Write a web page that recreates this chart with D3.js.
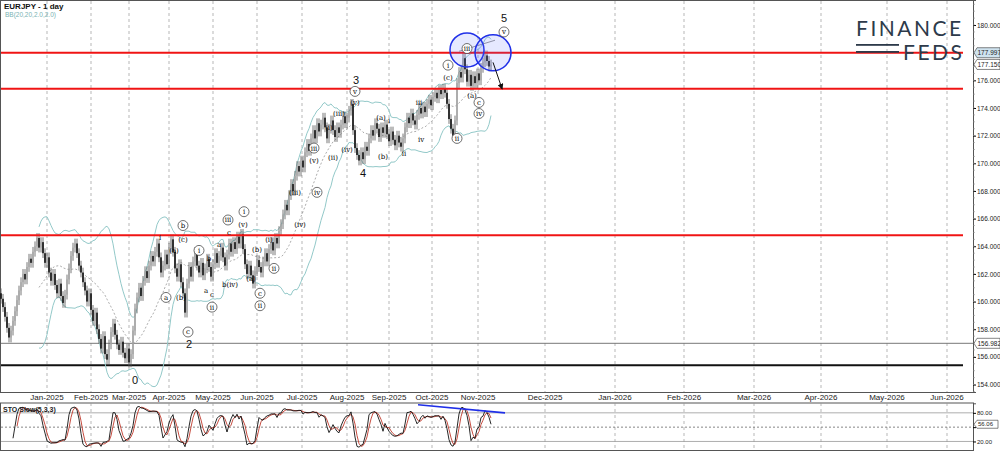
<!DOCTYPE html>
<html>
<head>
<meta charset="utf-8" />
<title>EURJPY - 1 day</title>
<script src="https://cdn.jsdelivr.net/npm/d3@7"></script>
<style>
  html, body { margin: 0; padding: 0; background: #fff; }
  svg { display: block; font-family: "Liberation Sans", Arial, sans-serif; }
</style>
</head>
<body>
<div id="chart"></div>
<script>
// daily closes, EURJPY, early Dec 2024 .. late Oct 2025
const closes = [
  160.2,159.6,158.9,158.1,157.4,157.9,158.6,159.3,160.1,160.8,
  161.4,162.0,161.6,162.5,163.1,162.8,163.6,164.0,164.6,163.9,
  164.3,163.5,162.8,163.2,162.1,161.5,162.0,161.2,160.6,161.3,
  160.4,159.9,160.5,161.6,162.4,163.3,163.9,164.2,163.5,162.6,
  162.1,161.4,160.8,160.0,160.6,159.4,158.6,159.2,158.0,157.3,
  156.6,157.5,156.2,155.8,156.9,157.8,158.4,157.6,156.9,156.5,
  157.1,156.3,155.9,156.6,155.6,156.2,157.9,159.5,160.3,161.0,
  160.4,161.5,162.2,161.7,162.6,163.3,162.9,163.6,164.2,163.2,
  162.1,162.6,163.4,162.7,163.9,164.5,163.6,162.4,161.8,162.7,
  161.4,160.6,159.2,161.3,162.5,161.8,162.9,163.6,162.6,162.1,
  162.8,161.9,162.4,163.1,162.5,161.8,162.7,163.5,162.8,163.3,
  163.9,163.2,162.6,163.4,164.2,163.6,164.3,163.8,164.7,164.2,
  164.9,163.8,162.7,162.0,162.6,161.9,161.3,162.2,163.0,162.5,
  162.1,162.9,163.5,162.9,163.8,164.3,163.7,164.6,164.2,165.1,
  165.6,166.3,167.0,166.6,167.7,168.5,168.0,169.1,169.8,169.4,
  170.2,169.7,170.8,171.4,170.9,171.8,172.4,171.8,172.9,172.3,
  172.8,173.3,172.6,171.8,172.5,173.1,172.4,171.9,172.6,172.2,
  172.8,173.4,172.9,173.3,173.8,174.3,172.4,171.1,170.6,170.2,
  170.8,170.3,171.2,170.9,171.8,172.4,172.0,172.9,172.5,171.9,
  172.6,172.2,172.8,172.1,171.6,172.3,171.7,171.3,172.0,171.5,
  171.2,171.8,172.6,173.3,172.9,173.6,173.1,172.8,173.5,174.0,
  173.6,174.1,173.7,174.3,174.6,174.2,174.8,175.1,174.7,175.3,
  175.0,175.4,175.1,174.3,173.2,172.5,172.0,173.1,175.8,176.6,
  176.2,177.6,176.8,175.9,176.4,175.6,176.3,175.8,176.5,176.0,
  176.9,177.3,177.8,177.4,177.0,177.15
];
const firstOpen = 160.6;

const priceTicks = [154,156,158,160,162,164,166,168,170,172,174,176,180];
const monthLabels = ["Jan-2025","Feb-2025","Mar-2025","Apr-2025","May-2025","Jun-2025","Jul-2025","Aug-2025","Sep-2025","Oct-2025","Nov-2025","Dec-2025","Jan-2026","Feb-2026","Mar-2026","Apr-2026","May-2026","Jun-2026"];
const monthBars = [23,45,64,84,106,128,150.5,173,194,215.5,238.5,272,307,341.5,376.5,410,443,473];

const redLevels = [177.997, 175.4, 164.8];
const grayLevel = 156.982;
const blackLevel = 155.4;
const lastPrice = 177.150;
const stoLevels = [20, 50, 80];
const stoTickLabels = [20, 80];

// wave labels: [text, bar index, price, kind]  kind: big | circ | plain
const waves = [
  ["0",67,154.3,"big"],["2",94,156.9,"big"],["3",177.5,176.0,"big"],["4",181,169.3,"big"],["5",251.5,180.5,"big"],
  ["i",79.5,164.6,"plain"],["a",82.5,160.3,"circ"],["b",91,165.5,"circ"],["(c)",91,164.5,"plain"],
  ["(a)",86.5,163.7,"plain"],["(b)",90,160.3,"plain"],["c",93.5,157.8,"circ"],
  ["i",99,163.7,"circ"],["a",102.5,160.8,"plain"],["c",105.5,160.5,"plain"],["ii",105.5,159.6,"circ"],
  ["b",104,163.1,"plain"],["a",109,164.1,"plain"],["iii",113.5,165.9,"circ"],["c",114,165.0,"plain"],
  ["b(iv)",114.5,161.2,"plain"],["i",121.5,166.5,"circ"],["(v)",121,165.6,"plain"],
  ["(b)",128,163.8,"plain"],["(a)",125,161.7,"plain"],["c",129.5,160.6,"circ"],["ii",129.5,159.7,"circ"],
  ["(i)",134,164.5,"plain"],["ii",136.5,162.4,"circ"],
  ["(iv)",149.5,165.6,"plain"],["(iii)",147,167.9,"plain"],["iv",158,167.9,"circ"],["(v)",156.5,170.2,"plain"],
  ["iii",156.5,171.1,"circ"],["(ii)",166,170.4,"plain"],["(i)",164,172.6,"plain"],["(iii)",169,173.6,"plain"],
  ["(iv)",173,171.0,"plain"],["(v)",177,174.4,"plain"],["v",177,175.2,"circ"],
  ["(a)",190,173.3,"plain"],["i",194,173.1,"plain"],["(b)",191,170.5,"plain"],["ii",201.5,170.7,"plain"],
  ["iii",209,174.4,"plain"],["iv",210,171.7,"plain"],["ii",228,171.8,"circ"],["i",223.5,177.1,"circ"],
  ["(c)",223.5,176.2,"plain"],["(a)",235.5,174.9,"plain"],["c",239,174.4,"circ"],["iv",239,173.6,"circ"],
  ["iii",233,178.3,"circ"],["v",251.5,179.5,"circ"]
];

const W = 1000, H = 451;
const plotR = 973, mainB = 392, stoTop = 403, stoB = 451;

const svg = d3.select("#chart").append("svg").attr("width", W).attr("height", H);

const x = d3.scaleLinear().domain([0, 486]).range([1, plotR]);
const y = d3.scaleLinear().domain([153.46, 181.81]).range([mainB, 0]);
const ys = d3.scaleLinear().domain([0, 100]).range([stoB, stoTop + 0.3]);

// ohlc from closes
const bars = closes.map(function(c, i) {
  const o = i === 0 ? firstOpen : closes[i - 1];
  return { i: i, o: o, c: c, h: Math.max(o, c) + 0.35, l: Math.min(o, c) - 0.35 };
});

// bollinger 20,2
const bb = [];
bars.forEach(function(b, i) {
  if (i < 19) return;
  const w = closes.slice(i - 19, i + 1);
  const m = d3.mean(w), s = d3.deviation(w) * Math.sqrt(19 / 20);
  bb.push({ i: i, m: m, u: m + 2 * s, d: m - 2 * s });
});

// stochastic 5,3,3
const rawK = bars.map(function(b, i) {
  const w = bars.slice(Math.max(0, i - 4), i + 1);
  return { hh: d3.max(w, d => d.h), ll: d3.min(w, d => d.l), c: b.c };
});
const kLine = [], dLine = [];
rawK.forEach(function(r, i) {
  if (i < 6) return;
  const w = rawK.slice(i - 2, i + 1);
  const num = d3.sum(w, d => d.c - d.ll), den = d3.sum(w, d => d.hh - d.ll);
  kLine.push({ i: i, v: den ? 100 * num / den : 50 });
});
kLine.forEach(function(k, j) {
  if (j < 2) return;
  dLine.push({ i: k.i, v: d3.mean(kLine.slice(j - 2, j + 1), d => d.v) });
});

// frames
svg.append("rect").attr("x", 0.5).attr("y", 0.5).attr("width", plotR).attr("height", mainB)
  .attr("fill", "none").attr("stroke", "#555");
svg.append("rect").attr("x", 0.5).attr("y", stoTop).attr("width", plotR).attr("height", stoB - stoTop - 0.5)
  .attr("fill", "none").attr("stroke", "#555");

// vertical month gridlines
svg.append("g").selectAll("line").data(monthBars).enter().append("line")
  .attr("x1", d => x(d)).attr("x2", d => x(d)).attr("y1", 1).attr("y2", mainB)
  .attr("stroke", "#999").attr("stroke-dasharray", "3,3").attr("stroke-width", 0.7);
svg.append("g").selectAll("line").data(monthBars).enter().append("line")
  .attr("x1", d => x(d)).attr("x2", d => x(d)).attr("y1", stoTop).attr("y2", stoB)
  .attr("stroke", "#999").attr("stroke-dasharray", "3,3").attr("stroke-width", 0.7);
svg.append("g").selectAll("text").data(monthLabels).enter().append("text")
  .attr("x", (d, i) => x(monthBars[i])).attr("y", 400).attr("text-anchor", "middle")
  .attr("font-size", 8).attr("fill", "#222").text(d => d);

// right price axis
const axis = svg.append("g").attr("transform", `translate(${plotR},0)`)
  .call(d3.axisRight(y).tickValues(priceTicks).tickFormat(d3.format(".3f")).tickSize(3));
axis.select(".domain").attr("stroke", "#555");
axis.selectAll("text").attr("font-size", 6.5).attr("fill", "#222").attr("dx", -2)
  .attr("font-family", "Liberation Sans, Arial");
const minor = d3.range(153.5, 181.8, 0.5);
axis.selectAll(".minor").data(minor).enter().append("line")
  .attr("y1", d => y(d)).attr("y2", d => y(d)).attr("x1", 0).attr("x2", 1.5).attr("stroke", "#777");

// horizontal levels
svg.append("line").attr("x1", 1).attr("x2", plotR).attr("y1", y(grayLevel)).attr("y2", y(grayLevel))
  .attr("stroke", "#777").attr("stroke-width", 1);
svg.append("line").attr("x1", 1).attr("x2", plotR - 10).attr("y1", y(blackLevel)).attr("y2", y(blackLevel))
  .attr("stroke", "#111").attr("stroke-width", 2);

// bollinger
const bbLine = k => d3.line().x(d => x(d.i)).y(d => y(d[k]));
svg.append("path").datum(bb).attr("d", bbLine("u")).attr("fill", "none").attr("stroke", "#93c9c9").attr("stroke-width", 1);
svg.append("path").datum(bb).attr("d", bbLine("d")).attr("fill", "none").attr("stroke", "#93c9c9").attr("stroke-width", 1);
svg.append("path").datum(bb).attr("d", bbLine("m")).attr("fill", "none").attr("stroke", "#888")
  .attr("stroke-dasharray", "2,2").attr("stroke-width", 0.7);

// candles
const cg = svg.append("g");
cg.selectAll("line").data(bars).enter().append("line")
  .attr("x1", d => x(d.i)).attr("x2", d => x(d.i)).attr("y1", d => y(d.h)).attr("y2", d => y(d.l))
  .attr("stroke", "#555").attr("stroke-width", 0.8);
cg.selectAll("rect").data(bars).enter().append("rect")
  .attr("x", d => x(d.i) - 0.8).attr("width", 1.6)
  .attr("y", d => y(Math.max(d.o, d.c))).attr("height", d => Math.max(0.8, Math.abs(y(d.o) - y(d.c))))
  .attr("fill", d => d.c >= d.o ? "#aaa" : "#111");

// red levels
svg.append("g").selectAll("line").data(redLevels).enter().append("line")
  .attr("x1", 1).attr("x2", plotR - 10).attr("y1", d => y(d)).attr("y2", d => y(d))
  .attr("stroke", "#f01414").attr("stroke-width", 2);

// blue circles, trend line, arrow
svg.append("line").attr("x1", x(229)).attr("y1", y(178.1)).attr("x2", x(247)).attr("y2", y(178.9))
  .attr("stroke", "#999").attr("stroke-width", 1);
[[233, 178.2, 17], [246, 178.0, 18]].forEach(function(c) {
  svg.append("circle").attr("cx", x(c[0])).attr("cy", y(c[1])).attr("r", c[2])
    .attr("fill", "rgba(90,110,255,0.15)").attr("stroke", "#2030e8").attr("stroke-width", 1.5);
});
svg.append("defs").append("marker").attr("id", "ah").attr("viewBox", "0 0 10 10").attr("refX", 8).attr("refY", 5)
  .attr("markerWidth", 6).attr("markerHeight", 6).attr("orient", "auto")
  .append("path").attr("d", "M0,0L10,5L0,10z").attr("fill", "#111");
svg.append("line").attr("x1", x(246)).attr("y1", y(177.3)).attr("x2", x(250.5)).attr("y2", y(175.4))
  .attr("stroke", "#111").attr("stroke-width", 1).attr("marker-end", "url(#ah)");

// wave labels
const wg = svg.append("g");
waves.forEach(function(w) {
  const px = x(w[1]), py = y(w[2]);
  if (w[3] === "big") {
    wg.append("text").attr("x", px).attr("y", py + 4).attr("text-anchor", "middle")
      .attr("font-size", 11).attr("fill", "#111").text(w[0]);
    return;
  }
  if (w[3] === "circ") {
    wg.append("circle").attr("cx", px).attr("cy", py).attr("r", 5).attr("fill", "#fff")
      .attr("stroke", "#333").attr("stroke-width", 0.7);
  }
  wg.append("text").attr("x", px).attr("y", py + 2.5).attr("text-anchor", "middle")
    .attr("font-size", 7).attr("font-family", "DejaVu Serif, serif").attr("fill", "#000").text(w[0]);
});

// price boxes on the axis
function tag(v, bg, txt) {
  const g = svg.append("g").attr("transform", `translate(${plotR + 1},${y(v)})`);
  g.append("path").attr("d", "M0,0L3,-5L26,-5L26,5L3,5Z").attr("fill", bg).attr("stroke", "#333").attr("stroke-width", 0.6);
  g.append("text").attr("x", 3.5).attr("y", 2.5).attr("font-size", 6.5).attr("fill", "#222").text(txt);
}
tag(redLevels[0], "#cfe3ef", "177.997");
tag(lastPrice, "#fff", "177.150");
tag(grayLevel, "#fff", "156.982");

// titles
svg.append("text").attr("x", 4).attr("y", 9).attr("font-size", 8).attr("font-weight", "bold").attr("fill", "#111").text("EURJPY - 1 day");
svg.append("text").attr("x", 5).attr("y", 17).attr("font-size", 6.5).attr("fill", "#7ab3b3").text("BB(20,20,2.0,2.0)");

// logo
const lg = svg.append("g").attr("fill", "#2d3a4a");
lg.append("text").attr("x", 856).attr("y", 36).attr("font-size", 21).attr("letter-spacing", 2.5)
  .attr("font-family", "Lato, sans-serif").text("FINANCE");
lg.append("text").attr("x", 903).attr("y", 60).attr("font-size", 21).attr("letter-spacing", 2.5)
  .attr("font-family", "Lato, sans-serif").text("FEDS");
[44, 51].forEach(function(yy) {
  lg.append("rect").attr("x", 856).attr("y", yy).attr("width", 43).attr("height", 1.8);
});

// stochastic panel
stoLevels.forEach(function(v) {
  svg.append("line").attr("x1", 1).attr("x2", plotR).attr("y1", ys(v)).attr("y2", ys(v))
    .attr("stroke", v === 50 ? "#666" : "#999").attr("stroke-dasharray", v === 50 ? "2,2" : null).attr("stroke-width", 0.8);
});
const sLine = d3.line().x(d => x(d.i)).y(d => ys(d.v));
svg.append("path").datum(dLine).attr("d", sLine).attr("fill", "none").attr("stroke", "#c0392b").attr("stroke-width", 0.9);
svg.append("path").datum(kLine).attr("d", sLine).attr("fill", "none").attr("stroke", "#111").attr("stroke-width", 0.9);
svg.append("line").attr("x1", x(208.5)).attr("y1", ys(97)).attr("x2", x(252)).attr("y2", ys(80))
  .attr("stroke", "#1f2fe8").attr("stroke-width", 1.6);
svg.append("text").attr("x", 3).attr("y", stoTop + 9).attr("font-size", 7).attr("font-weight", "bold").attr("fill", "#222").text("STO Slow(5,3,3)");
const sa = svg.append("g").attr("transform", `translate(${plotR},0)`)
  .call(d3.axisRight(ys).tickValues(stoLevels).tickFormat(d => stoTickLabels.includes(d) ? d3.format(".2f")(d) : "").tickSize(3));
sa.select(".domain").attr("stroke", "#555");
sa.selectAll("text").attr("font-size", 6).attr("fill", "#222").attr("dx", -2);
const lastK = kLine[kLine.length - 1].v;
const kt = svg.append("g").attr("transform", `translate(${plotR + 1},${ys(lastK)})`);
kt.append("path").attr("d", "M0,0L3,-4L24,-4L24,4L3,4Z").attr("fill", "#fff").attr("stroke", "#333").attr("stroke-width", 0.6);
kt.append("text").attr("x", 4).attr("y", 2.2).attr("font-size", 6).attr("fill", "#222").text(d3.format(".2f")(lastK));
</script>
</body>
</html>
